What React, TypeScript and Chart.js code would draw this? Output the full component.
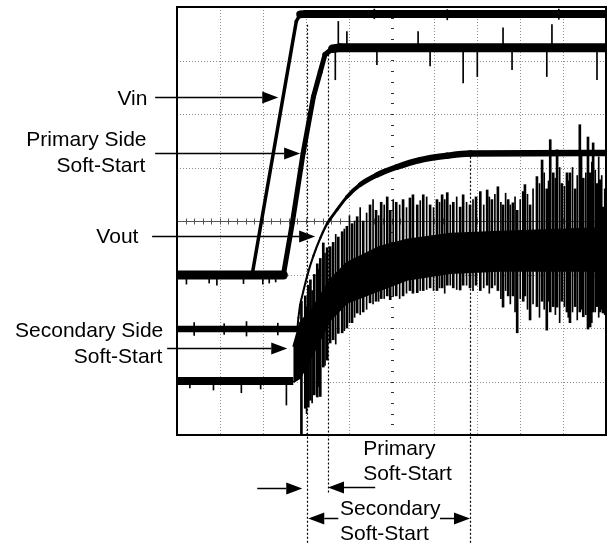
import React, { useEffect, useRef } from 'react';
import { Chart, registerables } from 'chart.js';

Chart.register(...registerables);

// ---- data (x in horizontal divisions 0..10, y in vertical divisions 0..8) ----
const xDivisions = [0, 1, 2, 3, 4, 5, 6, 7, 8, 9, 10];
const yDivisions = [0, 1, 2, 3, 4, 5, 6, 7, 8];

const vinX = [0, 1.75, 2.78, 2.87, 3.01, 10];
const vinY = [2.99, 2.99, 7.73, 7.86, 7.87, 7.87];

const primaryX = [0, 2.48, 2.69, 2.94, 3.18, 3.34, 3.45, 3.62, 3.8, 10];
const primaryY = [2.99, 2.99, 3.97, 5.27, 6.32, 6.79, 7.11, 7.22, 7.24, 7.24];

const voutX = [0, 2.8, 2.83, 2.87, 2.94, 3.04, 3.18, 3.34, 3.5, 3.73, 3.96, 4.27, 4.66, 5.13, 5.67, 6.3, 6.83, 10];
const voutY = [1.98, 1.98, 2.19, 2.43, 2.67, 2.99, 3.35, 3.68, 3.95, 4.21, 4.45, 4.68, 4.86, 5.01, 5.14, 5.22, 5.26, 5.27];

const secFlatX = [0, 2.71];
const secFlatY = [1.01, 1.01];
const secEnvX = [2.71, 2.87, 3.18, 3.57, 3.96, 4.73, 5.36, 6.37, 7.53, 8.7, 10];
const secUpperY = [1.65, 2.1, 2.39, 2.9, 3.22, 3.52, 3.65, 3.76, 3.8, 3.83, 3.87];
const secLowerY = [0.99, 1.07, 1.53, 2.15, 2.47, 2.71, 2.9, 3.03, 3.07, 3.07, 3.07];

const secSpikeX = [2.9, 2.99, 3.06, 3.11, 3.2, 3.27, 3.34, 3.41, 3.5, 3.57, 3.64, 3.76, 3.85, 3.96, 4.08, 4.2, 4.34, 4.5, 4.64, 4.76, 4.9, 4.97, 5.11, 5.27, 5.43, 5.5, 5.6, 5.74, 5.9, 6.06, 6.18, 6.3, 6.44, 6.6, 6.67, 6.83, 6.97, 7.07, 7.23, 7.34, 7.48, 7.6, 7.72, 7.83, 7.93, 8.07, 8.11, 8.23, 8.39, 8.51, 8.62, 8.7, 8.77, 8.86, 8.97, 9.09, 9.16, 9.28, 9.39, 9.47, 9.58, 9.63, 9.7, 9.79, 9.86, 9.93];
const secSpikeLo = [0.0, 0.5, 0.52, 0.65, 0.75, 0.71, 0.72, 1.27, 1.4, 1.72, 1.78, 1.9, 1.91, 2.0, 2.1, 2.28, 2.3, 2.47, 2.5, 2.55, 2.6, 2.53, 2.6, 2.6, 2.7, 2.65, 2.66, 2.7, 2.75, 2.7, 2.75, 2.8, 2.75, 2.71, 2.8, 2.75, 2.8, 2.7, 2.8, 2.75, 2.7, 2.39, 2.6, 2.6, 1.91, 2.5, 2.6, 2.15, 2.4, 2.5, 1.96, 2.3, 2.4, 2.39, 2.5, 2.3, 2.1, 2.4, 2.3, 2.21, 1.98, 2.02, 2.3, 2.4, 2.3, 2.28];
const secSpikeHi = [2.5, 2.6, 2.8, 2.9, 3.0, 3.2, 3.3, 3.59, 3.5, 3.52, 3.6, 3.7, 3.8, 3.9, 3.95, 4.08, 4.0, 4.3, 4.2, 4.35, 4.45, 4.2, 4.35, 4.4, 4.43, 4.49, 4.3, 4.49, 4.3, 4.4, 4.49, 4.53, 4.35, 4.26, 4.49, 4.3, 4.45, 4.55, 4.58, 4.4, 4.64, 4.3, 4.4, 4.34, 4.2, 4.55, 4.68, 4.3, 4.83, 5.14, 4.6, 5.52, 4.9, 5.33, 4.7, 4.9, 4.9, 4.6, 5.8, 4.8, 5.57, 4.9, 5.46, 4.7, 4.77, 4.26];

const secFineX = [3.02, 3.15, 3.3, 3.45, 3.7, 3.9, 4.02, 4.14, 4.27, 4.42, 4.57, 4.7, 4.83, 5.04, 5.19, 5.35, 5.67, 5.82, 5.98, 6.12, 6.24, 6.37, 6.52, 6.75, 6.9, 7.15, 7.28, 7.41, 7.55, 7.66, 7.77, 7.88, 8.0, 8.17, 8.3, 8.45, 8.56, 8.66, 8.82, 8.92, 9.03, 9.12, 9.22, 9.33, 9.43, 9.53, 9.67, 9.75, 9.83, 9.9, 9.97];
const secFineLo = [0.4, 0.6, 0.9, 1.3, 1.7, 1.95, 2.1, 2.2, 2.25, 2.35, 2.45, 2.5, 2.55, 2.6, 2.55, 2.65, 2.7, 2.72, 2.7, 2.75, 2.65, 2.8, 2.72, 2.8, 2.7, 2.75, 2.65, 2.8, 2.55, 2.7, 2.45, 2.3, 2.55, 2.35, 2.45, 2.2, 2.35, 2.5, 2.25, 2.1, 2.4, 2.2, 2.3, 2.15, 2.35, 2.25, 2.1, 2.3, 2.2, 2.35, 2.25];
const secFineHi = [2.4, 2.7, 3.1, 3.4, 3.75, 3.85, 4.1, 4.0, 4.25, 4.15, 4.4, 4.1, 4.3, 4.4, 4.3, 4.25, 4.38, 4.45, 4.25, 4.35, 4.4, 4.3, 4.45, 4.35, 4.4, 4.3, 4.45, 4.5, 4.35, 4.52, 4.3, 4.45, 4.4, 4.5, 4.6, 4.7, 4.9, 4.75, 4.8, 5.0, 4.65, 4.75, 5.0, 4.85, 5.3, 4.9, 5.1, 4.95, 5.2, 4.85, 4.6];

const priSpikeX = [3.69, 3.76, 3.96, 4.66, 5.62, 5.9, 6.67, 7.0, 7.6, 7.81, 8.62, 8.74, 9.79];
const priSpikeLo = [6.64, 7.24, 7.24, 6.92, 7.24, 6.9, 6.58, 6.7, 7.24, 6.83, 6.7, 7.24, 6.64];
const priSpikeHi = [7.24, 7.73, 7.54, 7.24, 7.54, 7.24, 7.24, 7.24, 7.61, 7.24, 7.24, 7.67, 7.24];

const flatNoiseX = [0.22, 0.75, 0.93, 1.55, 2.0, 2.15, 2.3, 0.4, 1.1, 1.62, 2.35, 0.3, 0.85, 1.5, 1.95, 2.55, 4.6, 6.3, 8.9];
const flatNoiseLo = [2.82, 2.84, 2.8, 2.83, 2.82, 2.84, 2.86, 1.86, 1.88, 1.85, 1.87, 0.88, 0.84, 0.79, 0.86, 0.56, 7.78, 7.76, 7.77];
const flatNoiseHi = [2.99, 2.99, 2.99, 2.99, 2.99, 2.99, 2.99, 2.1, 2.08, 2.12, 2.09, 1.01, 1.01, 1.01, 1.01, 1.01, 7.96, 7.95, 7.96];

const markerX = [3.04, 3.52, 6.83];
const markerTop = [7.67, 7.11, 5.2];
const markerBottom = [-2.02, -1.08, -2.02];

const noteText = ['Vin', 'Primary Side', 'Soft-Start', 'Vout', 'Secondary Side', 'Soft-Start', 'Primary', 'Soft-Start', 'Secondary', 'Soft-Start'];
const noteX = [-0.69, -0.71, -0.74, -0.9, -0.32, -0.34, 4.34, 4.34, 3.8, 3.8];
const noteY = [6.17, 5.41, 4.92, 3.59, 1.83, 1.35, -0.37, -0.84, -1.5, -1.96];
const noteAlign = ['right', 'right', 'right', 'right', 'right', 'right', 'left', 'left', 'left', 'left'];

const arrowY = [6.32, 5.27, 3.72, 1.62, -0.99, -0.97, -1.55, -1.55];
const arrowFrom = [-0.51, -0.51, -0.58, -0.23, 1.87, 4.62, 3.76, 6.13];
const arrowTo = [2.36, 2.87, 3.22, 2.57, 2.92, 3.52, 3.06, 6.83];

// ---- helpers ----
const pts = (xs: number[], ys: number[]) => xs.map((x, i) => ({ x, y: ys[i] }));
const bars = (xs: number[], lo: number[], hi: number[]) => xs.map((x, i) => ({ x, y: [lo[i], hi[i]] }));

const segWidth = (thin: number, thick: number, k: number) => (ctx: any) => {
  const dx = Math.abs(ctx.p1.x - ctx.p0.x);
  const dy = Math.abs(ctx.p1.y - ctx.p0.y);
  const t = dx / Math.max(1e-6, Math.hypot(dx, dy));
  return thin + (thick - thin) * Math.pow(t, k);
};

const FONT = '21px "Liberation Sans", Arial, sans-serif';

const scopePlugin = {
  id: 'scope',
  beforeDatasetsDraw(chart: any) {
    const { ctx, chartArea: a, scales } = chart;
    const x = scales.x, y = scales.y;
    ctx.save();
    ctx.strokeStyle = '#8e8e8e';
    ctx.lineWidth = 1;
    ctx.setLineDash([1, 2]);
    xDivisions.slice(1, -1).forEach((v) => {
      if (v === 5) return;
      const px = Math.round(x.getPixelForValue(v)) + 0.5;
      ctx.beginPath(); ctx.moveTo(px, a.top); ctx.lineTo(px, a.bottom); ctx.stroke();
    });
    yDivisions.slice(1, -1).forEach((v) => {
      if (v === 4) return;
      const py = Math.round(y.getPixelForValue(v)) + 0.5;
      ctx.beginPath(); ctx.moveTo(a.left, py); ctx.lineTo(a.right, py); ctx.stroke();
    });
    ctx.setLineDash([]);
    const cy = Math.round(y.getPixelForValue(4)) + 0.5;
    ctx.strokeStyle = '#555';
    ctx.beginPath(); ctx.moveTo(a.left, cy); ctx.lineTo(a.right, cy); ctx.stroke();
    for (let v = 0; v <= 10.001; v += 0.2) {
      const px = Math.round(x.getPixelForValue(v)) + 0.5;
      ctx.beginPath(); ctx.moveTo(px, cy - 3); ctx.lineTo(px, cy + 3); ctx.stroke();
    }
    const cx = Math.round(x.getPixelForValue(5)) + 0.5;
    ctx.strokeStyle = '#333';
    for (let v = 0; v <= 8.001; v += 0.2) {
      const py = Math.round(y.getPixelForValue(v)) + 0.5;
      ctx.beginPath(); ctx.moveTo(cx - 1.5, py); ctx.lineTo(cx + 1.5, py); ctx.stroke();
    }
    ctx.restore();
  },
  afterDraw(chart: any) {
    const { ctx, chartArea: a, scales } = chart;
    const x = scales.x, y = scales.y;
    ctx.save();
    ctx.strokeStyle = '#000';
    ctx.lineWidth = 2;
    ctx.strokeRect(a.left, a.top, a.right - a.left, a.bottom - a.top);
    ctx.lineWidth = 1.2;
    ctx.setLineDash([2, 2]);
    markerX.forEach((mx, i) => {
      const px = Math.round(x.getPixelForValue(mx)) + 0.5;
      ctx.beginPath();
      ctx.moveTo(px, y.getPixelForValue(markerTop[i]));
      ctx.lineTo(px, y.getPixelForValue(markerBottom[i]));
      ctx.stroke();
    });
    ctx.setLineDash([]);
    ctx.fillStyle = '#000';
    ctx.lineWidth = 1.5;
    arrowY.forEach((ay, i) => {
      const py = Math.round(y.getPixelForValue(ay)) + 0.5;
      const x0 = x.getPixelForValue(arrowFrom[i]);
      const x1 = x.getPixelForValue(arrowTo[i]);
      const dir = x1 > x0 ? 1 : -1;
      const head = 16;
      ctx.beginPath(); ctx.moveTo(x0, py); ctx.lineTo(x1 - dir * head, py); ctx.stroke();
      ctx.beginPath();
      ctx.moveTo(x1, py);
      ctx.lineTo(x1 - dir * head, py - 6);
      ctx.lineTo(x1 - dir * head, py + 6);
      ctx.closePath();
      ctx.fill();
    });
    ctx.font = FONT;
    ctx.textBaseline = 'alphabetic';
    noteText.forEach((t, i) => {
      ctx.textAlign = noteAlign[i];
      ctx.fillText(t, x.getPixelForValue(noteX[i]), y.getPixelForValue(noteY[i]));
    });
    ctx.restore();
  },
};

export default function App() {
  const ref = useRef<HTMLCanvasElement | null>(null);
  useEffect(() => {
    if (!ref.current) return;
    const black = '#000';
    const spike = (data: any, w: number) => ({
      type: 'bar', data, backgroundColor: black, barThickness: w, grouped: false, borderWidth: 0,
    });
    const chart = new Chart(ref.current, {
      type: 'line',
      data: {
        datasets: [
          {
            type: 'line', data: pts(vinX, vinY), borderColor: black, borderCapStyle: 'round', borderJoinStyle: 'round',
            segment: { borderWidth: segWidth(3.5, 8, 12) }, borderWidth: 4, pointRadius: 0,
          },
          {
            type: 'line', data: pts(primaryX, primaryY), borderColor: black, borderCapStyle: 'round', borderJoinStyle: 'round',
            segment: { borderWidth: segWidth(5, 9, 12) }, borderWidth: 5, pointRadius: 0,
          },
          {
            type: 'line', data: pts(voutX, voutY), borderColor: black, borderCapStyle: 'round', borderJoinStyle: 'round',
            segment: { borderWidth: segWidth(2, 6.5, 3) }, borderWidth: 3, pointRadius: 0, cubicInterpolationMode: 'monotone',
          },
          {
            type: 'line', data: pts(secFlatX, secFlatY), borderColor: black, borderWidth: 8, pointRadius: 0,
          },
          {
            type: 'line', data: pts(secEnvX, secUpperY), borderColor: black, borderWidth: 2, pointRadius: 0,
            backgroundColor: black, fill: '+1',
          },
          {
            type: 'line', data: pts(secEnvX, secLowerY), borderColor: black, borderWidth: 2, pointRadius: 0, fill: false,
          },
          spike(bars(secSpikeX, secSpikeLo, secSpikeHi), 2),
          spike(bars(secFineX, secFineLo, secFineHi), 1),
          spike(bars(priSpikeX, priSpikeLo, priSpikeHi), 1),
          spike(bars(flatNoiseX, flatNoiseLo, flatNoiseHi), 1),
        ] as any,
      },
      options: {
        animation: false,
        responsive: false,
        devicePixelRatio: 1,
        events: [],
        layout: { padding: { left: 177, top: 7, right: 7, bottom: 108 } },
        plugins: { legend: { display: false }, tooltip: { enabled: false } },
        scales: {
          x: { type: 'linear', min: 0, max: 10, display: false, offset: false },
          y: { type: 'linear', min: 0, max: 8, display: false },
        },
      } as any,
      plugins: [scopePlugin as any],
    });
    return () => chart.destroy();
  }, []);
  return (
    <div style={{ position: 'fixed', left: 0, top: 0, width: 613, height: 543, background: '#fff' }}>
      <canvas ref={ref} width={613} height={543} style={{ display: 'block' }} />
    </div>
  );
}
